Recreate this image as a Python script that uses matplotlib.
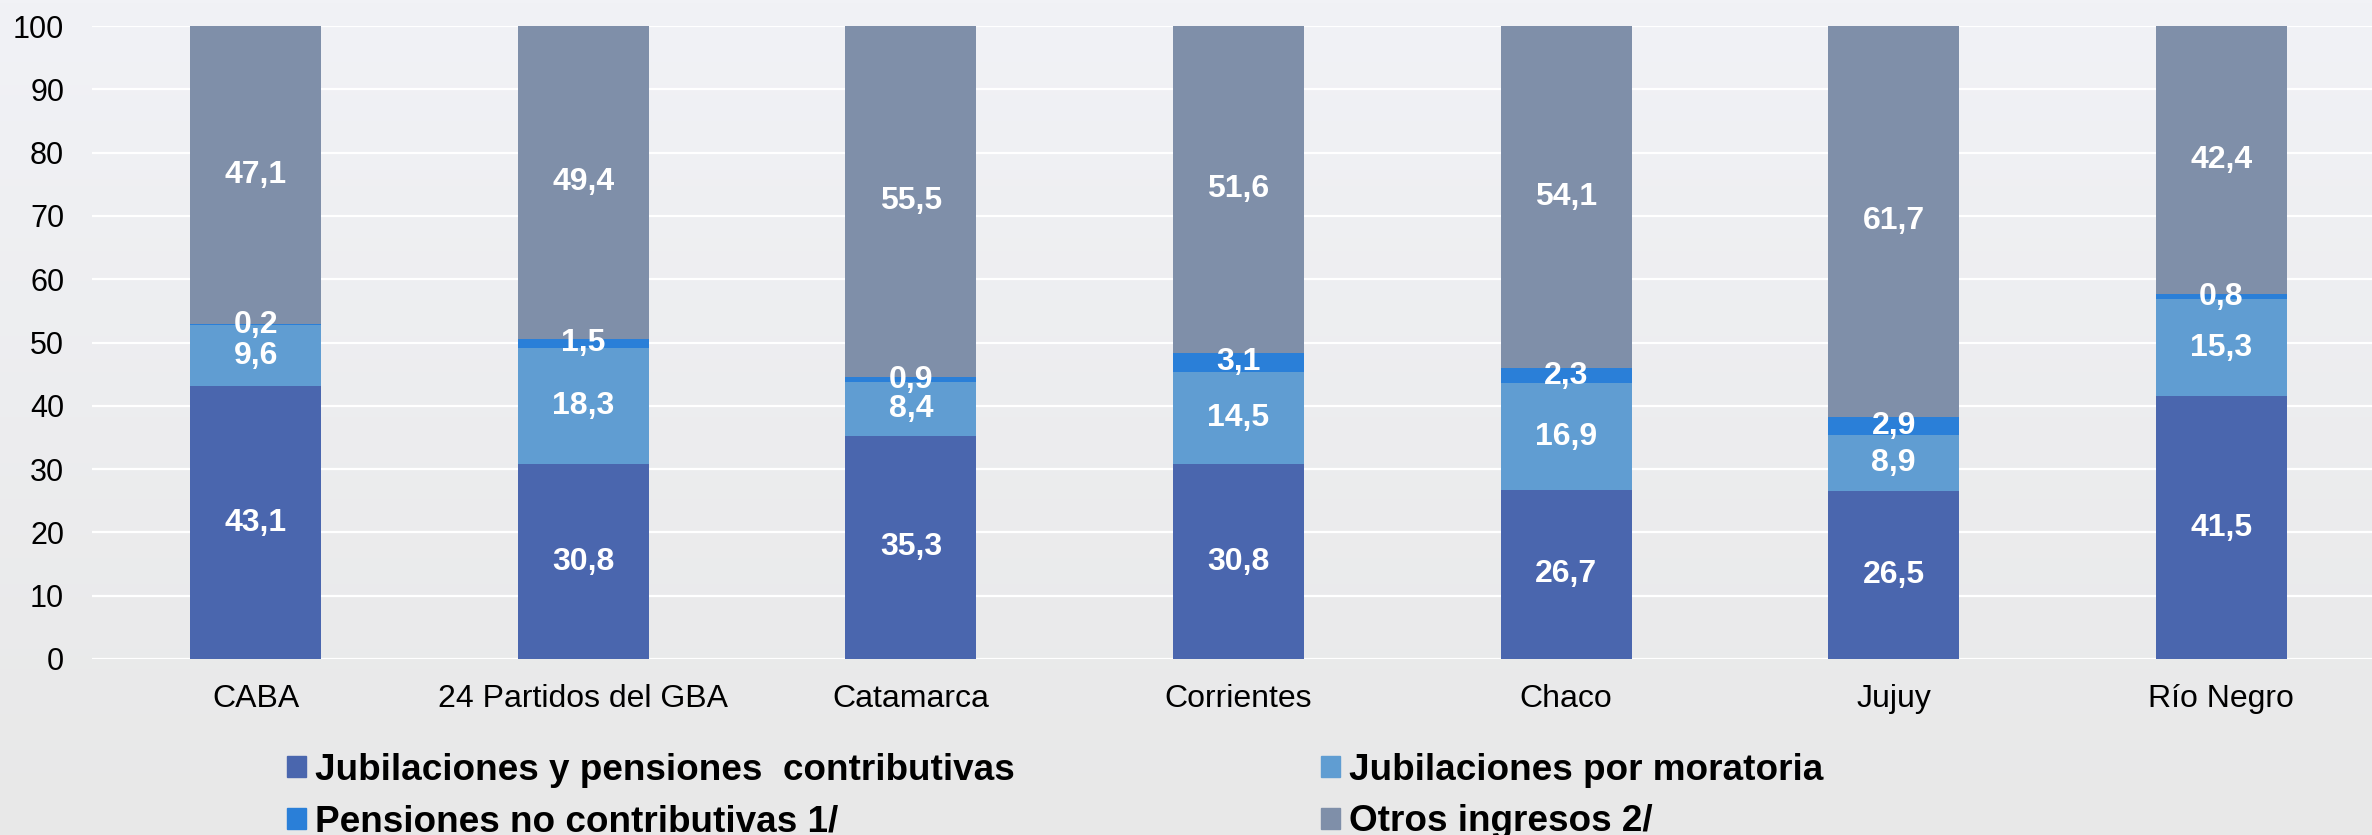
import matplotlib.pyplot as plt
import matplotlib.patches as mpatches
import numpy as np

# categories and series (percent of income)
regiones = ["CABA", "24 Partidos del GBA", "Catamarca", "Corrientes", "Chaco", "Jujuy", "Río Negro"]
contributivas = [43.1, 30.8, 35.3, 30.8, 26.7, 26.5, 41.5]
moratoria = [9.6, 18.3, 8.4, 14.5, 16.9, 8.9, 15.3]
no_contributivas = [0.2, 1.5, 0.9, 3.1, 2.3, 2.9, 0.8]
otros = [47.1, 49.4, 55.5, 51.6, 54.1, 61.7, 42.4]

series = [
    ("Jubilaciones y pensiones  contributivas", contributivas, "#4a66ae"),
    ("Jubilaciones por moratoria", moratoria, "#609dd2"),
    ("Pensiones no contributivas 1/", no_contributivas, "#2a7fd8"),
    ("Otros ingresos 2/", otros, "#7f8fa9"),
]

plt.rcParams['font.family'] = ['Liberation Sans', 'DejaVu Sans']

W, H = 2372, 835
fig = plt.figure(figsize=(W / 100, H / 100), dpi=100)

# soft gray gradient background
bg = fig.add_axes([0, 0, 1, 1], zorder=-10)
grad = np.linspace(0, 1, 256).reshape(-1, 1)
top = np.array([0xf1, 0xf2, 0xf6]) / 255
bot = np.array([0xe8, 0xe8, 0xe8]) / 255
img = top + (bot - top) * grad[:, :, None]
bg.imshow(img, aspect='auto', extent=[0, 1, 0, 1])
bg.axis('off')

ax = fig.add_axes([92 / W, 1 - 659 / H, 1 - 92 / W, (659 - 26) / H])
ax.patch.set_alpha(0)

x = np.arange(len(regiones))
bottom = np.zeros(len(regiones))
for name, vals, col in series:
    vals = np.array(vals)
    ax.bar(x, vals, 0.4, bottom=bottom, color=col, edgecolor='none', zorder=3, label=name)
    for xi, b, v in zip(x, bottom, vals):
        ax.text(xi, b + v / 2, f"{v:.1f}".replace('.', ','), ha='center', va='center',
                color='white', fontsize=23, fontweight='bold', zorder=5)
    bottom = bottom + vals

ax.set_xlim(-0.5, 6.46)
ax.set_ylim(0, 100)
ax.set_yticks(np.arange(0, 101, 10))
ax.yaxis.grid(True, color='white', linewidth=1.6, zorder=0)
ax.set_axisbelow(True)
for s in ax.spines.values():
    s.set_visible(False)
ax.tick_params(axis='both', length=0, colors='black')
ax.tick_params(axis='y', pad=20, labelsize=22)
ax.tick_params(axis='x', pad=18, labelsize=23)
ax.set_xticks(x)
ax.set_xticklabels(regiones)

order = [series[0], series[2], series[1], series[3]]
leg_handles = [mpatches.Patch(color=c) for _, _, c in order]
leg_labels = [n for n, _, _ in order]
leg = fig.legend(leg_handles, leg_labels, ncol=2, loc='lower left',
                 bbox_to_anchor=(254 / W, -0.045), frameon=False,
                 prop={'weight': 'bold', 'size': 26.6},
                 handlelength=0.5, handleheight=0.5, handletextpad=0.25,
                 columnspacing=8.3, labelspacing=0.45)

fig.savefig("out.png", dpi=100)
